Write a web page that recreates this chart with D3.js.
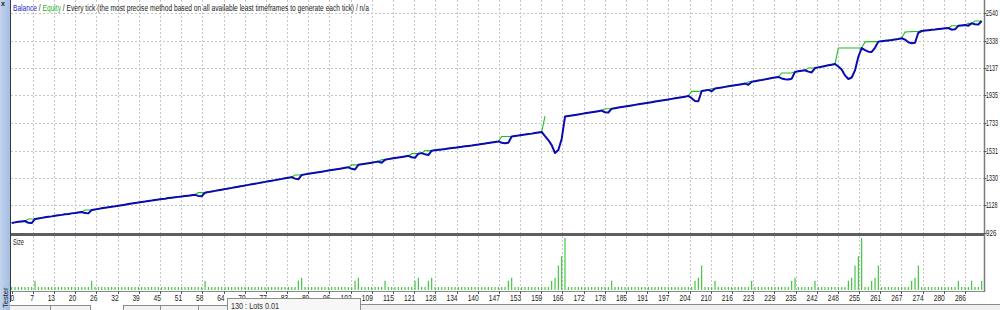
<!DOCTYPE html>
<html><head><meta charset="utf-8">
<script src="https://cdn.jsdelivr.net/npm/d3@7"></script>
<style>
html,body{margin:0;padding:0;background:#fff;overflow:hidden}
svg{display:block}
text{font-family:"Liberation Sans","DejaVu Sans",sans-serif}
</style></head><body>
<svg id="c" width="1000" height="310"></svg>
<script>
// ---- data (per trade index) ----
const balance = [
1000,1004,1008,1011,1014,1001,999,1029,1033,1037,
1041,1045,1048,1052,1056,1059,1063,1066,1070,1073,
1077,1080,1072,1070,1095,1099,1103,1107,1111,1115,
1119,1122,1126,1130,1134,1138,1142,1146,1150,1154,
1157,1161,1164,1168,1171,1175,1178,1182,1185,1188,
1191,1194,1197,1200,1203,1206,1198,1196,1222,1226,
1231,1235,1240,1244,1248,1253,1257,1262,1266,1270,
1275,1279,1284,1288,1292,1297,1301,1306,1310,1314,
1319,1323,1328,1332,1336,1325,1320,1352,1356,1360,
1364,1368,1372,1376,1380,1384,1388,1392,1396,1400,
1404,1408,1397,1392,1426,1430,1434,1438,1442,1446,
1450,1441,1464,1468,1472,1476,1480,1484,1488,1492,
1482,1478,1508,1512,1503,1498,1530,1533,1536,1539,
1542,1546,1549,1552,1555,1558,1562,1565,1568,1572,
1575,1579,1582,1586,1590,1594,1598,1588,1584,1588,
1634,1638,1641,1645,1648,1652,1655,1659,1663,1667,
1637,1608,1571,1513,1535,1616,1780,1784,1788,1792,
1796,1800,1804,1808,1812,1816,1820,1824,1812,1810,
1838,1842,1846,1850,1854,1858,1862,1866,1870,1874,
1878,1882,1886,1890,1894,1898,1902,1906,1910,1914,
1918,1922,1926,1932,1915,1895,1893,1968,1972,1976,
1966,1986,1990,1994,1998,2002,2006,2010,2014,2018,
2022,2014,2036,2040,2044,2048,2053,2058,2063,2067,
2071,2060,2054,2052,2058,2108,2112,2116,2120,2110,
2104,2136,2141,2146,2151,2156,2161,2166,2148,2126,
2082,2056,2067,2119,2219,2283,2268,2256,2254,2285,
2330,2333,2336,2339,2342,2346,2350,2355,2345,2325,
2318,2322,2395,2408,2411,2414,2417,2419,2422,2425,
2428,2430,2418,2420,2446,2449,2452,2447,2464,2458,
2456,2481];

const equity = [
1000,1004,1008,1011,1014,1029,1029,1029,1033,1037,
1041,1045,1048,1052,1056,1059,1063,1066,1070,1073,
1077,1080,1095,1095,1095,1099,1103,1107,1111,1115,
1119,1122,1126,1130,1134,1138,1142,1146,1150,1154,
1157,1161,1164,1168,1171,1175,1178,1182,1185,1188,
1191,1194,1197,1200,1203,1206,1222,1222,1222,1226,
1231,1235,1240,1244,1248,1253,1257,1262,1266,1270,
1275,1279,1284,1288,1292,1297,1301,1306,1310,1314,
1319,1323,1328,1332,1336,1352,1352,1352,1356,1360,
1364,1368,1372,1376,1380,1384,1388,1392,1396,1400,
1404,1408,1426,1426,1426,1430,1434,1438,1442,1446,
1450,1464,1464,1468,1472,1476,1480,1484,1488,1492,
1508,1508,1508,1512,1530,1530,1530,1533,1536,1539,
1542,1546,1549,1552,1555,1558,1562,1565,1568,1572,
1575,1579,1582,1586,1590,1594,1598,1634,1634,1634,
1634,1638,1641,1645,1648,1652,1655,1659,1663,1667,
1784,null,null,null,null,null,1780,1784,1788,1792,
1796,1800,1804,1808,1812,1816,1820,1824,1838,1838,
1838,1842,1846,1850,1854,1858,1862,1866,1870,1874,
1878,1882,1886,1890,1894,1898,1902,1906,1910,1914,
1918,1922,1926,1932,1965,1965,1965,1968,1972,1976,
1986,1986,1990,1994,1998,2002,2006,2010,2014,2018,
2022,2036,2036,2040,2044,2048,2053,2058,2063,2067,
2071,2100,2100,2100,2100,2108,2112,2116,2120,2136,
2136,2136,2141,2146,2151,2156,2161,2166,2283,2283,
2283,2283,2283,2283,2283,2283,2328,2330,2330,2330,
2330,2333,2336,2339,2342,2346,2350,2355,2400,2402,
2403,2404,2405,2408,2411,2414,2417,2419,2422,2425,
2428,2430,2446,2446,2446,2449,2452,2464,2464,2481,
2481,2481];

const lots = [
0.01,0.01,0.01,0.01,0.01,0.01,0.01,0.03,0.01,0.01,
0.01,0.01,0.01,0.01,0.01,0.01,0.01,0.01,0.01,0.01,
0.01,0.01,0.01,0.01,0.03,0.01,0.01,0.01,0.01,0.01,
0.01,0.01,0.01,0.01,0.01,0.01,0.01,0.01,0.01,0.01,
0.01,0.01,0.01,0.01,0.01,0.01,0.01,0.01,0.01,0.01,
0.01,0.01,0.01,0.01,0.01,0.01,0.01,0.01,0.03,0.01,
0.01,0.01,0.01,0.01,0.01,0.01,0.01,0.01,0.01,0.01,
0.01,0.01,0.01,0.01,0.01,0.01,0.01,0.01,0.01,0.01,
0.01,0.01,0.01,0.01,0.01,0.01,0.03,0.04,0.01,0.01,
0.01,0.01,0.01,0.01,0.01,0.01,0.01,0.01,0.01,0.01,
0.01,0.01,0.01,0.03,0.04,0.01,0.01,0.01,0.01,0.01,
0.01,0.01,0.03,0.01,0.01,0.01,0.01,0.01,0.01,0.01,
0.01,0.03,0.04,0.01,0.01,0.03,0.04,0.01,0.01,0.01,
0.01,0.01,0.01,0.01,0.01,0.01,0.01,0.01,0.01,0.01,
0.01,0.01,0.01,0.01,0.01,0.01,0.01,0.01,0.01,0.03,
0.04,0.01,0.01,0.01,0.01,0.01,0.01,0.01,0.01,0.01,
0.01,0.01,0.03,0.04,0.08,0.11,0.17,0.01,0.01,0.01,
0.01,0.01,0.01,0.01,0.01,0.01,0.01,0.01,0.01,0.01,
0.03,0.01,0.01,0.01,0.01,0.01,0.01,0.01,0.01,0.01,
0.01,0.01,0.01,0.01,0.01,0.01,0.01,0.01,0.01,0.01,
0.01,0.01,0.01,0.01,0.01,0.03,0.04,0.08,0.01,0.01,
0.01,0.03,0.01,0.01,0.01,0.01,0.01,0.01,0.01,0.01,
0.01,0.01,0.03,0.01,0.01,0.01,0.01,0.01,0.01,0.01,
0.01,0.01,0.01,0.01,0.03,0.04,0.01,0.01,0.01,0.01,
0.01,0.03,0.01,0.01,0.01,0.01,0.01,0.01,0.01,0.01,
0.01,0.03,0.04,0.08,0.11,0.17,0.01,0.01,0.03,0.04,
0.08,0.01,0.01,0.01,0.01,0.01,0.01,0.01,0.01,0.01,
0.03,0.04,0.08,0.01,0.01,0.01,0.01,0.01,0.01,0.01,
0.01,0.01,0.01,0.01,0.03,0.01,0.01,0.01,0.03,0.01,
0.01,0.03];

const xTickLabels = [0,7,13,20,26,32,39,45,51,58,64,70,77,83,89,96,102,109,115,121,
  128,134,140,147,153,159,166,172,178,185,191,197,204,210,216,223,229,235,242,248,
  255,261,267,274,280,286];
const yTickLabels = [926,1128,1330,1531,1733,1935,2137,2338,2540];
const headerParts = [
  {t:"Balance", c:"#2424c8"},
  {t:" / ", c:"#1a1a1a"},
  {t:"Equity", c:"#1fb41f"},
  {t:" / Every tick (the most precise method based on all available least timeframes to generate each tick) / n/a", c:"#1a1a1a"}
];
const panelLabel = "Size";
const tooltipText = "130 : Lots 0.01";

// ---- scales ----
const svg = d3.select("#c");
const LEFT = 11, RIGHT = 984;
const x = d3.scaleLinear().domain([0, 286]).range([11.7, 965]);
const y = d3.scaleLinear().domain([926, 2540]).range([233, 13]);
const ys = d3.scaleLinear().domain([0, 0.17]).range([290, 238]);
const xt = d3.scalePoint().domain(xTickLabels).range([x(0), x(286)]);

svg.append("rect").attr("width",1000).attr("height",310).attr("fill","#fff");

// ---- gridlines ----
const grid = svg.append("g").attr("stroke","#c6c6c6").attr("stroke-width",1).attr("stroke-dasharray","2,2");
grid.selectAll("line.h").data(yTickLabels.slice(1)).join("line")
  .attr("x1",LEFT).attr("x2",RIGHT)
  .attr("y1",d=>Math.round(y(d))+0.5).attr("y2",d=>Math.round(y(d))+0.5);
grid.selectAll("line.v").data(xTickLabels.slice(1)).join("line")
  .attr("x1",d=>Math.round(xt(d))+0.5).attr("x2",d=>Math.round(xt(d))+0.5)
  .attr("y1",0).attr("y2",291);

// ---- balance / equity ----
const lineEq = d3.line().defined(d=>d!==null).x((d,i)=>x(i)).y(d=>y(d));
svg.append("path").attr("d",lineEq(equity)).attr("fill","none")
  .attr("stroke","#22c022").attr("stroke-width",1.1);
const lineBal = d3.line().x((d,i)=>x(i)).y(d=>y(d));
svg.append("path").attr("d",lineBal(balance)).attr("fill","none")
  .attr("stroke","#0a0ab0").attr("stroke-width",2).attr("stroke-linejoin","round");

// ---- size bars ----
svg.append("g").selectAll("line").data(lots).join("line")
  .attr("x1",(d,i)=>x(i)).attr("x2",(d,i)=>x(i))
  .attr("y1",ys(0)).attr("y2",d=>ys(d))
  .attr("stroke","#33c033").attr("stroke-width",1.1);

// ---- separator & frame ----
svg.append("line").attr("x1",LEFT).attr("x2",RIGHT+1).attr("y1",234.5).attr("y2",234.5)
  .attr("stroke","#5e5e5e").attr("stroke-width",3);
svg.append("line").attr("x1",LEFT).attr("x2",RIGHT).attr("y1",291.5).attr("y2",291.5)
  .attr("stroke","#8a8a8a").attr("stroke-width",1);
svg.append("line").attr("x1",RIGHT+0.5).attr("x2",RIGHT+0.5).attr("y1",0).attr("y2",292)
  .attr("stroke","#7c7c7c").attr("stroke-width",1.5);
svg.append("g").selectAll("line").data(xTickLabels).join("line")
  .attr("x1",d=>Math.round(xt(d))+0.5).attr("x2",d=>Math.round(xt(d))+0.5)
  .attr("y1",291).attr("y2",294).attr("stroke","#555");

// ---- y labels (narrowed so they fit before the window edge) ----
const yl = svg.append("g");
yl.selectAll("line").data(yTickLabels).join("line")
  .attr("x1",RIGHT).attr("x2",RIGHT+2.5)
  .attr("y1",d=>Math.round(y(d))+0.5).attr("y2",d=>Math.round(y(d))+0.5)
  .attr("stroke","#555");
yl.selectAll("text").data(yTickLabels).join("text")
  .attr("x",0).attr("y",0)
  .attr("transform",d=>`translate(986,${y(d)+3}) scale(${String(d).length>3?0.62:0.72},1)`)
  .attr("font-size","8.6px").attr("fill","#1a1a1a")
  .text(d=>d);

// ---- x labels ----
svg.append("g").selectAll("text").data(xTickLabels).join("text")
  .attr("x",(d,i)=> i===0 ? 10.5 : xt(d)+1)
  .attr("y",300.5)
  .attr("text-anchor",(d,i)=> i===0 ? "start" : "end")
  .attr("font-size","8.6px").attr("fill","#1a1a1a")
  .attr("textLength",d=>String(d).length*3.7).attr("lengthAdjust","spacingAndGlyphs")
  .text(d=>d);

// ---- header: one text, squeezed horizontally to the terminal's width ----
const hdr = svg.append("text").attr("x",0).attr("y",0).attr("font-size","9px");
hdr.selectAll("tspan").data(headerParts).join("tspan")
  .attr("fill",d=>d.c).text(d=>d.t);
const natW = hdr.node().getComputedTextLength();
hdr.attr("transform",`translate(13,10.5) scale(${356/natW},1)`);

svg.append("text").attr("x",13).attr("y",245).attr("font-size","8.6px")
  .attr("fill","#1a1a1a").attr("textLength",11).attr("lengthAdjust","spacingAndGlyphs")
  .text(panelLabel);

// ---- bottom toolbar boxes ----
const bt = svg.append("g").attr("stroke","#8c8c8c").attr("stroke-width",1);
bt.append("rect").attr("x",8.5).attr("y",305.5).attr("width",82).attr("height",8).attr("fill","#f3f3f3");
bt.append("line").attr("x1",50.5).attr("x2",50.5).attr("y1",305.5).attr("y2",310);
bt.append("rect").attr("x",123.5).attr("y",305.5).attr("width",104).attr("height",8).attr("fill","#f3f3f3");
bt.append("line").attr("x1",160.5).attr("x2",160.5).attr("y1",305.5).attr("y2",310);
bt.append("line").attr("x1",198.5).attr("x2",198.5).attr("y1",305.5).attr("y2",310);
bt.append("rect").attr("x",360.5).attr("y",304.5).attr("width",650).attr("height",8).attr("fill","#efefef");
bt.append("rect").attr("x",227.5).attr("y",298.5).attr("width",133).attr("height",14).attr("fill","#f7f7f7");
svg.append("text").attr("x",231).attr("y",309).attr("font-size","9px").attr("fill","#303030")
  .attr("textLength",48).attr("lengthAdjust","spacingAndGlyphs").text(tooltipText);

// ---- left dock strip ----
const defs = svg.append("defs");
const lg = defs.append("linearGradient").attr("id","strip").attr("x1",0).attr("x2",1).attr("y1",0).attr("y2",0);
lg.append("stop").attr("offset","0%").attr("stop-color","#c3d5ee");
lg.append("stop").attr("offset","100%").attr("stop-color","#a4bde2");
svg.append("rect").attr("x",0).attr("y",0).attr("width",10).attr("height",310).attr("fill","url(#strip)");
svg.append("line").attr("x1",10.5).attr("x2",10.5).attr("y1",0).attr("y2",302)
  .attr("stroke","#3a3a3a").attr("stroke-width",1);
svg.append("text").attr("x",1).attr("y",6).attr("font-size","7px").attr("font-weight","bold")
  .attr("fill","#222").text("x");
svg.append("text").attr("transform","translate(8,308) rotate(-90)").attr("font-size","7.5px")
  .attr("fill","#222").text("Tester");
</script>
</body></html>
